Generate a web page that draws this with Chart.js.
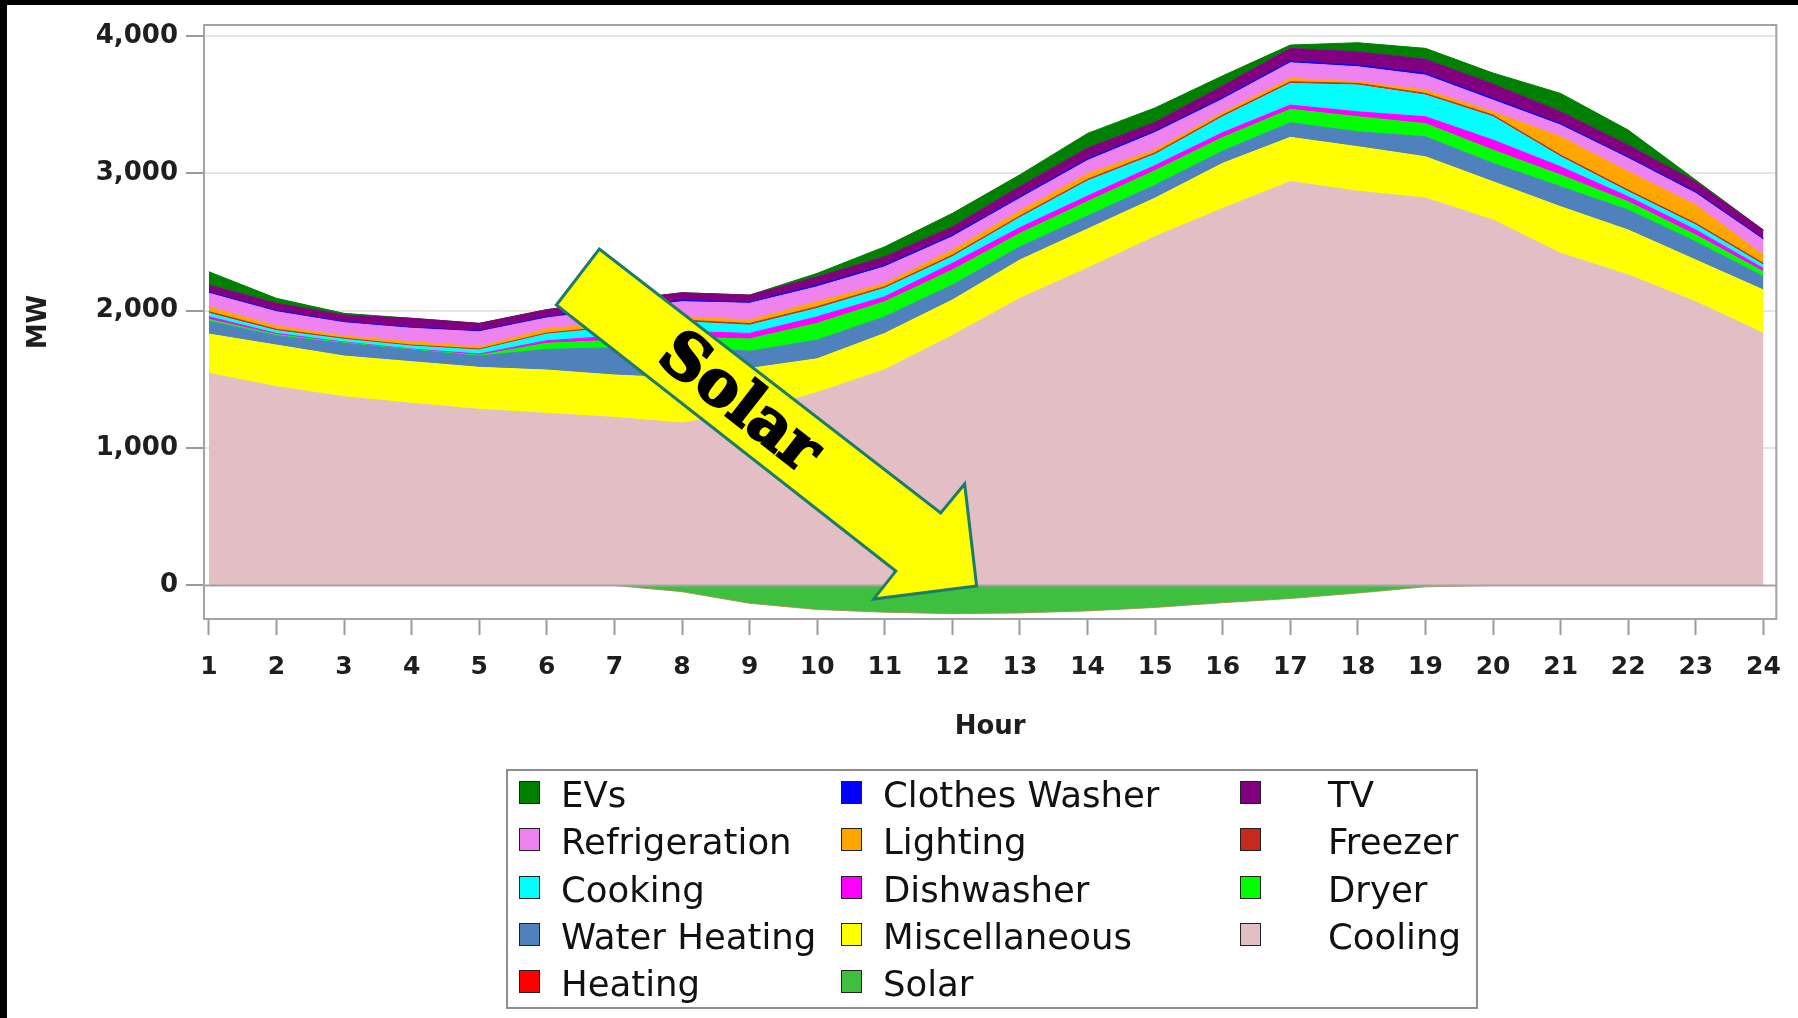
<!DOCTYPE html>
<html>
<head>
<meta charset="utf-8">
<script src="https://cdn.jsdelivr.net/npm/chart.js@4.4.1/dist/chart.umd.min.js"></script>
<style>
html,body{margin:0;padding:0;background:#fff;}
body{width:1798px;height:1018px;position:relative;overflow:hidden;font-family:"DejaVu Sans",sans-serif;}
#c{position:absolute;left:0;top:0;}
.bt{position:absolute;left:0;top:0;width:1798px;height:5px;background:#000;}
.bl{position:absolute;left:0;top:0;width:7px;height:1018px;background:#000;}
#legendBox{position:absolute;left:506px;top:769px;width:968px;height:236px;border:2px solid #8e8e8e;}
.sw{position:absolute;width:21px;height:23px;box-sizing:border-box;border:1.5px solid #222;}
.lt{position:absolute;font-family:"DejaVu Sans";font-size:35.5px;line-height:35px;color:#111;white-space:nowrap;}
</style>
</head>
<body>
<canvas id="c" width="1798" height="1018"></canvas>
<div class="bt"></div><div class="bl"></div>
<div id="legendBox"></div>
<script>
// ---- data (MW by hour) ----
const hours = [1,2,3,4,5,6,7,8,9,10,11,12,13,14,15,16,17,18,19,20,21,22,23,24];
const cooling       = [1544,1447,1374,1326,1282,1253,1224,1183,1265,1405,1570,1820,2090,2310,2540,2745,2940,2870,2820,2660,2418,2260,2065,1835];
const miscellaneous = [286,303,296,303,306,315,308,327,315,245,265,258,280,285,280,328,322,324,301,279,339,327,304,316];
const waterHeating  = [93,68,93,85,82,151,198,228,125,137,121,109,96,95,95,90,106,109,145,134,146,146,133,97];
const dryer         = [14,8,5,4,6,44,55,68,90,121,110,109,97,105,105,98,98,109,96,96,85,60,49,36];
const dishwasher    = [19,9,4,3,9,19,30,44,40,48,36,49,42,40,38,36,31,36,50,73,60,37,37,24];
const cooking       = [25,20,20,22,29,48,60,70,60,61,61,48,73,110,80,115,158,195,158,170,73,36,36,25];
const freezer       = [12,10,8,7,8,8,10,12,12,12,12,12,12,12,12,12,12,12,12,12,12,12,12,12];
const lighting      = [36,24,16,24,16,30,28,24,25,37,24,37,37,40,22,20,24,12,24,24,133,134,133,60];
const refrigeration = [98,104,97,98,109,80,95,110,122,109,121,97,91,97,125,96,114,109,109,85,85,97,85,110];
const clothesWasher = [8,7,6,6,6,8,10,10,10,12,12,12,12,12,12,12,12,12,12,12,10,10,10,8];
const tv            = [52,54,50,67,55,52,55,55,50,60,61,60,75,78,63,85,93,97,103,105,87,87,75,64];
const evs           = [97,36,12,0,0,0,0,0,0,25,73,98,85,107,105,73,24,66,80,80,134,109,12,0];
const heating       = [0,0,0,0,0,0,0,0,0,0,0,0,0,0,0,0,0,0,0,0,0,0,0,0];
const solar         = [0,0,0,0,0,0,0,-45,-130,-175,-195,-205,-200,-185,-160,-125,-95,-55,-10,0,0,0,0,0];
const yTickValues = [0,1000,2000,3000,4000];
const xTickValues = hours;

// ---- styles ----
const COL = {
  EVs:'#008000', 'Clothes Washer':'#0000FF', TV:'#800080', Refrigeration:'#EE82EE',
  Lighting:'#FFA500', Freezer:'#C62A1D', Cooking:'#00FFFF', Dishwasher:'#FF00FF',
  Dryer:'#00FF00', 'Water Heating':'#4F81BD', Miscellaneous:'#FFFF00', Cooling:'#E3BEC4',
  Heating:'#FF0000', Solar:'#3EBF3E'
};

function mk(label, arr, fill, extra) {
  return Object.assign({
    label, data: hours.map((h,i)=>({x:h, y:arr[i]})),
    backgroundColor: COL[label], borderColor: COL[label], borderWidth: 1,
    fill, pointRadius: 0, pointHoverRadius: 0, tension: 0, stack: 'load'
  }, extra || {});
}

const datasets = [
  mk('Solar', solar, 'origin', {stack:'gen', borderColor:'rgba(165,140,85,0.85)'}),
  mk('Cooling', cooling, 'origin'),
  mk('Miscellaneous', miscellaneous, '-1'),
  mk('Water Heating', waterHeating, '-1'),
  mk('Dryer', dryer, '-1'),
  mk('Dishwasher', dishwasher, '-1'),
  mk('Cooking', cooking, '-1'),
  mk('Freezer', freezer, '-1'),
  mk('Lighting', lighting, '-1'),
  mk('Refrigeration', refrigeration, '-1'),
  mk('Clothes Washer', clothesWasher, '-1'),
  mk('TV', tv, '-1'),
  mk('EVs', evs, '-1'),
  mk('Heating', heating, false, {borderColor:'rgba(0,0,0,0)'})
];

// annotation arrow (in data units: hour, MW)
const arrowShape = {
  tailA:[6.776,2449], tailB:[6.141,2042],
  notchR:[11.827,528], barbR:[12.182,739], tip:[12.359,-4], barbL:[10.838,-98], notchL:[11.163,105]
};

const framePlugin = {
  id:'framePlugin',
  afterDatasetsDraw(chart){
    const {ctx, chartArea:a, scales} = chart;
    const y0 = scales.y.getPixelForValue(0);
    ctx.save();
    ctx.strokeStyle = '#a3a3a3';
    ctx.lineWidth = 2;
    ctx.beginPath(); ctx.moveTo(a.left, y0); ctx.lineTo(a.right, y0); ctx.stroke();
    ctx.strokeRect(a.left, a.top, a.right-a.left, a.bottom-a.top);
    // arrow
    const P = k => [scales.x.getPixelForValue(arrowShape[k][0]), scales.y.getPixelForValue(arrowShape[k][1])];
    const pts = ['tailA','notchR','barbR','tip','barbL','notchL','tailB'].map(P);
    ctx.beginPath();
    pts.forEach((p,i)=> i? ctx.lineTo(p[0],p[1]) : ctx.moveTo(p[0],p[1]));
    ctx.closePath();
    ctx.fillStyle = '#FFFF00';
    ctx.fill();
    ctx.lineWidth = 3;
    ctx.lineJoin = 'miter';
    ctx.strokeStyle = '#1C7C6C';
    ctx.stroke();
    const A=P('tailA'), B=P('tailB'), R=P('notchR'), L=P('notchL');
    const t0=[(A[0]+B[0])/2,(A[1]+B[1])/2], t1=[(R[0]+L[0])/2,(R[1]+L[1])/2];
    const f = 0.475;
    const cx = t0[0]+(t1[0]-t0[0])*f, cy = t0[1]+(t1[1]-t0[1])*f;
    const ang = Math.atan2(t1[1]-t0[1], t1[0]-t0[0]);
    ctx.translate(cx, cy);
    ctx.rotate(ang);
    ctx.font = 'bold 63px "DejaVu Serif"';
    ctx.textAlign = 'center';
    ctx.textBaseline = 'middle';
    ctx.fillStyle = '#000';
    ctx.lineWidth = 2.5;
    ctx.strokeStyle = '#000';
    ctx.strokeText('Solar', 0, 2);
    ctx.fillText('Solar', 0, 2);
    ctx.restore();
  }
};

new Chart(document.getElementById('c'), {
  type:'line',
  data:{ datasets },
  plugins:[framePlugin],
  options:{
    responsive:false, animation:false, devicePixelRatio:1,
    layout:{ padding:{ left:0, top:25, right:19, bottom:258 } },
    plugins:{ legend:{display:false}, tooltip:{enabled:false} },
    elements:{ line:{ borderJoinStyle:'round' } },
    scales:{
      x:{
        type:'linear', min:0.928, max:24.19,
        afterBuildTicks: s => { s.ticks = xTickValues.map(v=>({value:v})); },
        afterFit: s => { s.height = 141; },
        grid:{ drawOnChartArea:false, drawTicks:true, tickLength:16, tickColor:'#9a9a9a', tickWidth:2 },
        border:{ display:false },
        ticks:{ padding:17, color:'#1e1e1e', font:{family:'DejaVu Sans', weight:'bold', size:25}, maxRotation:0, autoSkip:false,
          callback: v => String(v) },
        title:{ display:true, text:'Hour', color:'#1e1e1e', font:{family:'DejaVu Sans', weight:'bold', size:26}, padding:{top:0,bottom:17} }
      },
      y:{
        type:'linear', stacked:true, min:-244, max:4080,
        afterBuildTicks: s => { s.ticks = yTickValues.map(v=>({value:v})); },
        afterFit: s => { s.width = 204; },
        grid:{ color: c => (c.tick && c.tick.value === 0) ? 'rgba(0,0,0,0)' : '#e6e6e6', lineWidth:2,
               drawTicks:true, tickLength:18, tickColor:'#9a9a9a', tickWidth:2 },
        border:{ display:false },
        ticks:{ padding:8, color:'#1e1e1e', font:{family:'DejaVu Sans', weight:'bold', size:26},
          callback: v => Number(v).toLocaleString('en-US') },
        title:{ display:true, text:'MW', color:'#1e1e1e', font:{family:'DejaVu Sans', weight:'bold', size:26}, padding:{top:24,bottom:0} }
      }
    }
  }
});

// ---- legend (HTML) ----
const legendCols = [
  ['EVs','Refrigeration','Cooking','Water Heating','Heating'],
  ['Clothes Washer','Lighting','Dishwasher','Miscellaneous','Solar'],
  ['TV','Freezer','Dryer','Cooling']
];
const swX = [519, 841, 1240], txX = [561, 883, 1328];
legendCols.forEach((col, ci) => col.forEach((name, ri) => {
  const sw = document.createElement('div');
  sw.className = 'sw';
  sw.style.left = swX[ci] + 'px';
  sw.style.top = (781 + 47.3*ri) + 'px';
  sw.style.background = COL[name];
  document.body.appendChild(sw);
  const t = document.createElement('div');
  t.className = 'lt';
  t.style.left = txX[ci] + 'px';
  t.style.top = (777 + 47.3*ri) + 'px';
  t.textContent = name;
  document.body.appendChild(t);
}));
</script>
</body>
</html>
